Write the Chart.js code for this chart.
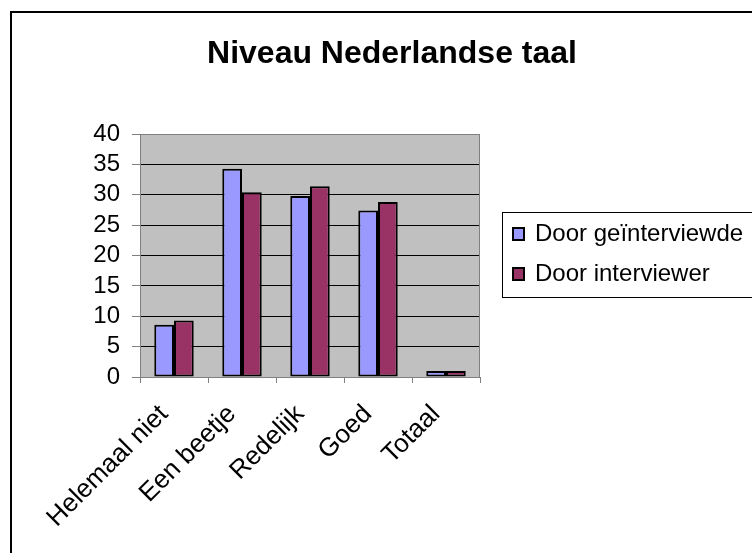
<!DOCTYPE html>
<html>
<head>
<meta charset="utf-8">
<script src="https://cdn.jsdelivr.net/npm/chart.js@4"></script>
<style>
  html, body { margin: 0; padding: 0; background: #fff; }
  #wrap { width: 752px; height: 553px; }
</style>
</head>
<body>
<div id="wrap"><canvas id="chart1" width="752" height="553"></canvas></div>
<script>
const categories = ['Helemaal niet', 'Een beetje', 'Redelijk', 'Goed', 'Totaal'];
const geinterviewde = [8.6, 34.3, 29.8, 27.4, 1.0];
const interviewer = [9.3, 30.4, 31.4, 28.8, 1.0];
const seriesNames = ['Door geïnterviewde', 'Door interviewer'];
const yTicks = [0, 5, 10, 15, 20, 25, 30, 35, 40];

const fontName = '"Liberation Sans", Arial, sans-serif';

// frame, grey plot background and the legend box
const decor = {
    id: 'decor',
    beforeDraw(chart) {
        const ctx = chart.ctx;
        const a = chart.chartArea;
        ctx.save();
        ctx.fillStyle = '#c0c0c0';
        ctx.fillRect(a.left, a.top, a.right - a.left, a.bottom - a.top);
        ctx.restore();
    },
    afterDraw(chart) {
        const ctx = chart.ctx;
        const a = chart.chartArea;
        ctx.save();
        // plot border
        ctx.strokeStyle = '#808080';
        ctx.lineWidth = 1;
        ctx.strokeRect(a.left + 0.5, a.top + 0.5, a.right - a.left - 1, a.bottom - a.top);

        // outer frame
        ctx.strokeStyle = '#000';
        ctx.lineWidth = 2;
        ctx.beginPath();
        ctx.moveTo(11, 560);
        ctx.lineTo(11, 12);
        ctx.lineTo(760, 12);
        ctx.stroke();

        // title
        ctx.fillStyle = '#000';
        ctx.font = 'bold 32px ' + fontName;
        ctx.textAlign = 'center';
        ctx.textBaseline = 'middle';
        ctx.fillText('Niveau Nederlandse taal', 392, 54);

        // legend
        ctx.lineWidth = 1;
        ctx.strokeStyle = '#000';
        ctx.strokeRect(502.5, 212.5, 300, 85);
        ctx.font = '24px ' + fontName;
        ctx.textAlign = 'left';
        const ys = [234, 274];
        chart.data.datasets.forEach((ds, i) => {
            ctx.fillStyle = ds.backgroundColor;
            ctx.fillRect(513, ys[i] - 6, 11, 12);
            ctx.lineWidth = 2;
            ctx.strokeStyle = '#000';
            ctx.strokeRect(513, ys[i] - 6, 11, 12);
            ctx.fillStyle = '#000';
            ctx.fillText(ds.label, 535, ys[i]);
        });
        ctx.restore();
    }
};

new Chart(document.getElementById('chart1'), {
    type: 'bar',
    data: {
        labels: categories,
        datasets: [{
            label: seriesNames[0],
            data: geinterviewde,
            backgroundColor: '#9999ff',
            borderColor: '#000',
            borderWidth: 2,
            borderSkipped: false
        }, {
            label: seriesNames[1],
            data: interviewer,
            backgroundColor: '#993366',
            borderColor: '#000',
            borderWidth: 2,
            borderSkipped: false
        }]
    },
    options: {
        responsive: false,
        animation: false,
        layout: { padding: { left: 0, top: 134, right: 272, bottom: 0 } },
        plugins: {
            legend: { display: false },
            title: { display: false },
            tooltip: { enabled: false }
        },
        datasets: {
            bar: { categoryPercentage: 0.58, barPercentage: 1.0 }
        },
        scales: {
            x: {
                afterFit(scale) { scale.height = 176; },
                grid: {
                    display: true,
                    drawOnChartArea: false,
                    offset: true,
                    color: '#808080',
                    tickLength: 6
                },
                border: { display: false },
                ticks: {
                    color: '#000',
                    font: { family: fontName, size: 26 },
                    minRotation: 45,
                    maxRotation: 45,
                    autoSkip: false,
                    labelOffset: -10,
                    padding: 16
                }
            },
            y: {
                min: 0,
                max: 40,
                afterFit(scale) { scale.width = 140; },
                afterBuildTicks(scale) {
                    scale.ticks = yTicks.map(v => ({ value: v }));
                },
                grid: {
                    color: '#000',
                    lineWidth: 1,
                    tickColor: '#808080',
                    tickLength: 8
                },
                border: { display: false },
                ticks: {
                    color: '#000',
                    font: { family: fontName, size: 24 },
                    autoSkip: false,
                    padding: 12
                }
            }
        }
    },
    plugins: [decor]
});
</script>
</body>
</html>
